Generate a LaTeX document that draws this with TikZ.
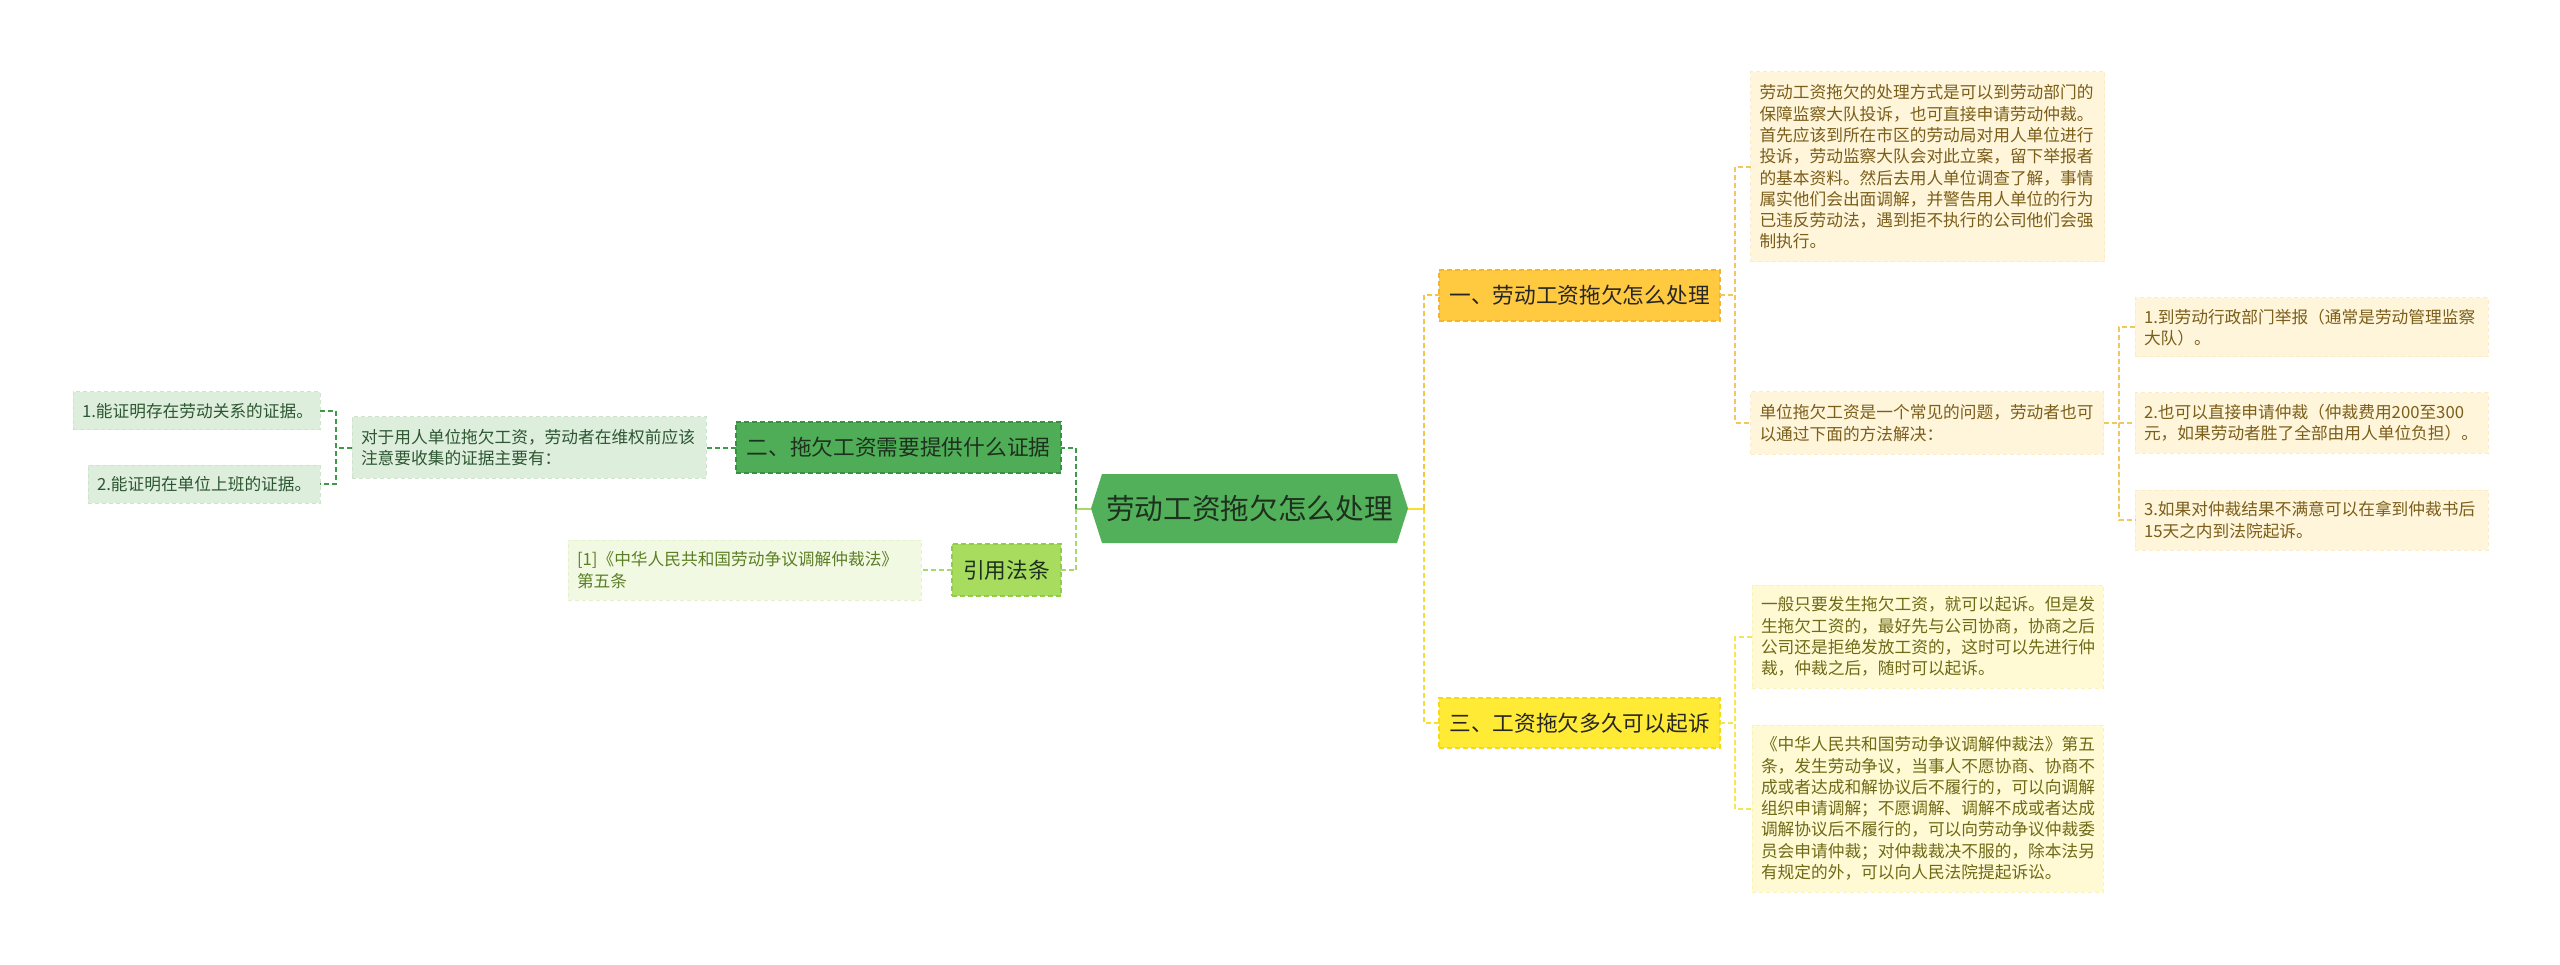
\documentclass[tikz,border=0pt]{standalone}
\usepackage{fontspec}
\setmainfont{Noto Sans CJK SC}
\usetikzlibrary{backgrounds}
\definecolor{rootfill}{HTML}{53B05A}
\definecolor{roottext}{HTML}{1E301E}
\definecolor{brtwofill}{HTML}{4FAD57}
\definecolor{brtwoborder}{HTML}{3A8F42}
\definecolor{citefill}{HTML}{A7DC5F}
\definecolor{citeborder}{HTML}{93CB4A}
\definecolor{broneFill}{HTML}{FFC940}
\definecolor{broneBorder}{HTML}{F2B52D}
\definecolor{brthreeFill}{HTML}{FFEA35}
\definecolor{brthreeBorder}{HTML}{F3DA1E}
\definecolor{yfill}{HTML}{FEF5DA}
\definecolor{yborder}{HTML}{FBECC4}
\definecolor{ytext}{HTML}{7B5E1A}
\definecolor{cfill}{HTML}{FFFAD4}
\definecolor{cborder}{HTML}{FBF2B8}
\definecolor{ctext}{HTML}{6F6A16}
\definecolor{gfill}{HTML}{DDEEDC}
\definecolor{gborder}{HTML}{CDE3CC}
\definecolor{gtext}{HTML}{2E5632}
\definecolor{lfill}{HTML}{F1F9E3}
\definecolor{lborder}{HTML}{E3F1CC}
\definecolor{ltext}{HTML}{5C7F25}
\definecolor{lnyellow}{HTML}{F7DF2E}
\definecolor{lnorange}{HTML}{F5C542}
\definecolor{lnorangelight}{HTML}{F0C860}
\definecolor{lnyellowlight}{HTML}{F2E55A}
\definecolor{lndark}{HTML}{3E9A48}
\definecolor{lnlight}{HTML}{A8D86A}
\tikzset{
  every node/.style={inner sep=0pt, outer sep=0pt},
  dsh/.style={dash pattern=on 5pt off 3pt, line width=2pt},
  txt/.style={rectangle, inner xsep=9pt, inner ysep=0pt, align=left,
    font=\fontsize{16.7}{21.3}\selectfont, line width=1pt, dash pattern=on 4pt off 3pt},
  ybox/.style={txt, fill=yfill, draw=yborder, text=ytext},
  cbox/.style={txt, fill=cfill, draw=cborder, text=ctext},
  gbox/.style={txt, fill=gfill, draw=gborder, text=gtext},
  lbox/.style={txt, fill=lfill, draw=lborder, text=ltext},
  brbox/.style={rectangle, align=center, font=\fontsize{21.7}{26}\selectfont,
    line width=1.5pt, dash pattern=on 5pt off 3pt},
}
\begin{document}
\begin{tikzpicture}[x=1pt,y=-1pt]
\useasboundingbox (0,0) rectangle (2560,965);
\begin{pgfonlayer}{background}
\fill[white] (0,0) rectangle (2560,965);
\end{pgfonlayer}

% root
\node[font=\fontsize{28.7}{34}\selectfont, text=roottext, minimum width=295pt, minimum height=69pt] (root) at (1249.5,508.5) {劳动工资拖欠怎么处理};
\begin{pgfonlayer}{background}
\fill[rootfill] (root.north west) -- (root.north east) -- ([xshift=11pt]root.east) -- (root.south east) -- (root.south west) -- ([xshift=-11pt]root.west) -- cycle;
\end{pgfonlayer}
\coordinate (rootR) at ([xshift=11pt]root.east);
\coordinate (rootL) at ([xshift=-11pt]root.west);

% main branches
\node[brbox, fill=broneFill, draw=broneBorder, text=black!85, minimum width=281pt, minimum height=51pt] (br1) at (1579.5,295.5) {一、劳动工资拖欠怎么处理};
\node[brbox, fill=brthreeFill, draw=brthreeBorder, text=black!85, minimum width=281pt, minimum height=50pt] (br3) at (1579.5,723) {三、工资拖欠多久可以起诉};
\node[brbox, fill=brtwofill, draw=brtwoborder, text=roottext, minimum width=325pt, minimum height=51pt] (br2) at (898.5,447.5) {二、拖欠工资需要提供什么证据};
\node[brbox, fill=citefill, draw=citeborder, text=roottext, minimum width=109pt, minimum height=52pt] (br4) at (1006.5,570) {引用法条};

% branch 1 children
\node[ybox, text width=336pt, minimum height=190pt] (A) at (1927.5,167) {劳动工资拖欠的处理方式是可以到劳动部门的\\保障监察大队投诉，也可直接申请劳动仲裁。\\首先应该到所在市区的劳动局对用人单位进行\\投诉，劳动监察大队会对此立案，留下举报者\\的基本资料。然后去用人单位调查了解，事情\\属实他们会出面调解，并警告用人单位的行为\\已违反劳动法，遇到拒不执行的公司他们会强\\制执行。};
\node[ybox, text width=335pt, minimum height=62pt] (B) at (1927,423) {单位拖欠工资是一个常见的问题，劳动者也可\\以通过下面的方法解决：};
\node[ybox, text width=335pt, minimum height=59pt] (B1) at (2311.5,327.5) {1.到劳动行政部门举报（通常是劳动管理监察\\大队）。};
\node[ybox, text width=335pt, minimum height=60pt] (B2) at (2311.5,423) {2.也可以直接申请仲裁（仲裁费用200至300\\元，如果劳动者胜了全部由用人单位负担）。};
\node[ybox, text width=335pt, minimum height=60pt] (B3) at (2311.5,520) {3.如果对仲裁结果不满意可以在拿到仲裁书后\\15天之内到法院起诉。};

% branch 3 children
\node[cbox, text width=333pt, minimum height=103pt] (C1) at (1927.5,636.5) {一般只要发生拖欠工资，就可以起诉。但是发\\生拖欠工资的，最好先与公司协商，协商之后\\公司还是拒绝发放工资的，这时可以先进行仲\\裁，仲裁之后，随时可以起诉。};
\node[cbox, text width=333pt, minimum height=167pt] (C2) at (1927.5,808.5) {《中华人民共和国劳动争议调解仲裁法》第五\\条，发生劳动争议，当事人不愿协商、协商不\\成或者达成和解协议后不履行的，可以向调解\\组织申请调解；不愿调解、调解不成或者达成\\调解协议后不履行的，可以向劳动争议仲裁委\\员会申请仲裁；对仲裁裁决不服的，除本法另\\有规定的外，可以向人民法院提起诉讼。};

% branch 2 children
\node[gbox, text width=336pt, minimum height=61pt] (L) at (529,447.5) {对于用人单位拖欠工资，劳动者在维权前应该\\注意要收集的证据主要有：};
\node[gbox, text width=229pt, minimum height=38pt] (L1) at (196.5,411) {1.能证明存在劳动关系的证据。};
\node[gbox, text width=214pt, minimum height=38pt] (L2) at (204,484) {2.能证明在单位上班的证据。};

% citation
\node[lbox, text width=335pt, minimum height=60pt] (Cit) at (744.5,570) {[1]《中华人民共和国劳动争议调解仲裁法》\\第五条};

% spine coordinates
\coordinate (rsp) at (1424,508.5);
\coordinate (lsp) at (1076,508.5);
\coordinate (s1) at (1735,0);
\coordinate (s2) at (2119,0);
\coordinate (s3) at (1735,0);
\coordinate (s4) at (336,0);

% root connectors (right)
\draw[lnyellow, line width=2pt] (rootR) -- (rsp);
\draw[lnorange, dsh] (rsp) -- (rsp |- br1.west) -- (br1.west);
\draw[lnyellow, dsh] (rsp) -- (rsp |- br3.west) -- (br3.west);
% root connectors (left)
\draw[lnlight, line width=2pt] (rootL) -- (lsp);
\draw[lndark, dsh] (lsp) -- (lsp |- br2.east) -- (br2.east);
\draw[lnlight, dsh] (lsp) -- (lsp |- br4.east) -- (br4.east);

% branch 1 to children
\draw[lnorangelight, dsh] (br1.east) -- (br1.east -| s1);
\draw[lnorangelight, dsh] (A.west) -- (A.west -| s1) -- (B.west -| s1) -- (B.west);
% B to B1..B3
\draw[lnorangelight, dsh] (B.east) -- (B.east -| s2);
\draw[lnorangelight, dsh] (B1.west) -- (B1.west -| s2) -- (B3.west -| s2) -- (B3.west);
\draw[lnorangelight, dsh] (B2.west -| s2) -- (B2.west);
% branch 3 to children
\draw[lnyellowlight, dsh] (br3.east) -- (br3.east -| s3);
\draw[lnyellowlight, dsh] (C1.west) -- (C1.west -| s3) -- (C2.west -| s3) -- (C2.west);
% branch 2 to child and leaves
\draw[lndark, dsh] (br2.west) -- (L.east);
\draw[lndark, dsh] (L.west) -- (L.west -| s4);
\draw[lndark, dsh] (L1.east) -- (L1.east -| s4) -- (L2.east -| s4) -- (L2.east);
% citation
\draw[lnlight, dsh] (br4.west) -- (Cit.east);
\end{tikzpicture}
\end{document}
